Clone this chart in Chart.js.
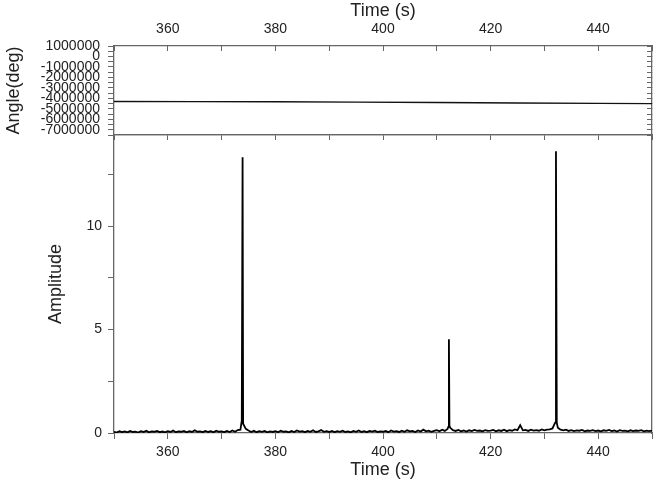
<!DOCTYPE html>
<html>
<head>
<meta charset="utf-8">
<script src="https://cdn.jsdelivr.net/npm/chart.js@4.4.0/dist/chart.umd.min.js"></script>
<style>
  html, body { margin: 0; padding: 0; background: #fff; }
  #wrap { position: relative; width: 665px; height: 487px; overflow: hidden; }
  canvas { position: absolute; left: 0; }
  #angleChart { top: 0; z-index: 2; }
  #ampChart { top: 130px; z-index: 1; }
</style>
</head>
<body>
<div id="wrap">
  <canvas id="ampChart" width="665" height="357"></canvas>
  <canvas id="angleChart" width="665" height="142"></canvas>
</div>
<script>
// tick labels
var timeTicks = [360, 380, 400, 420, 440];
var ampTicks = [0, 5, 10];
var angleTicks = [1000000, 0, -1000000, -2000000, -3000000, -4000000, -5000000, -6000000, -7000000];

// top panel: angle vs time
var angleTimes = [350, 365, 380, 395, 410, 425, 440, 450];
var angleValues = [-4300000, -4310000, -4330000, -4360000, -4400000, -4440000, -4480000, -4500000];

// bottom panel: amplitude sampled every 0.5 s from 350 s
var ampValues = [
  0.06,0.02,0.09,0.04,0.08,0.03,0.10,0.05,0.07,0.02,0.09,0.05,0.11,0.03,0.08,0.06,0.10,0.04,0.07,0.03,
  0.09,0.05,0.12,0.04,0.08,0.06,0.10,0.03,0.09,0.05,0.13,0.06,0.08,0.04,0.10,0.05,0.09,0.03,0.11,0.06,
  0.08,0.04,0.10,0.05,0.12,0.06,0.14,0.16,0.45,0.20,0.12,0.05,0.11,0.04,0.09,0.06,0.10,0.03,0.08,0.05,
  0.09,0.04,0.11,0.06,0.08,0.03,0.10,0.05,0.12,0.07,0.09,0.04,0.10,0.06,0.13,0.05,0.08,0.14,0.06,0.09,
  0.05,0.10,0.04,0.09,0.06,0.11,0.05,0.08,0.03,0.10,0.06,0.12,0.05,0.09,0.04,0.10,0.07,0.11,0.05,0.08,
  0.06,0.10,0.04,0.12,0.07,0.09,0.05,0.11,0.06,0.13,0.08,0.10,0.05,0.12,0.07,0.16,0.08,0.11,0.06,0.10,
  0.14,0.08,0.16,0.10,0.20,0.25,0.14,0.10,0.15,0.08,0.12,0.07,0.13,0.09,0.15,0.10,0.12,0.08,0.14,0.10,
  0.11,0.15,0.08,0.13,0.10,0.16,0.09,0.14,0.11,0.17,0.14,0.38,0.13,0.15,0.10,0.16,0.12,0.14,0.11,0.17,
  0.13,0.16,0.18,0.22,0.50,0.25,0.16,0.13,0.16,0.10,0.14,0.09,0.13,0.11,0.15,0.08,0.12,0.10,0.14,0.09,
  0.12,0.08,0.13,0.10,0.15,0.09,0.12,0.07,0.14,0.10,0.11,0.08,0.13,0.09,0.12,0.10,0.14,0.08,0.11,0.09,0.12
];
var ampTimes = ampValues.map(function (v, i) { return 350 + i * 0.5; });

// the three spikes
var peakTimes = [373.75, 373.9, 412.15, 412.25, 412.35, 432.15, 432.3];
var peakValues = [0.6, 13.33, 0.3, 4.53, 0.35, 13.62, 0.5];

Chart.defaults.font.family = "'Liberation Sans', Arial, sans-serif";
Chart.defaults.color = '#222';

var axisColor = '#666';

function isTick(list, v) {
    return list.some(function (t) { return Math.abs(t - v) < 1e-6 * Math.max(1, Math.abs(t)); });
}

// force axis box sizes so both panels share the same plot edges
function fixWidth(w) {
    return function (scale) { scale.width = w; scale.paddingTop = 0; scale.paddingBottom = 0; };
}
function fixHeight(h) {
    return function (scale) { scale.height = h; scale.paddingLeft = 0; scale.paddingRight = 0; };
}

// top chart
var anglePoints = angleTimes.map(function (t, i) { return { x: t, y: angleValues[i] }; });

new Chart(document.getElementById('angleChart'), {
    type: 'line',
    data: {
        datasets: [{
            data: anglePoints,
            borderColor: '#111',
            borderWidth: 1.4,
            pointRadius: 0,
            xAxisID: 'x',
            yAxisID: 'y'
        }]
    },
    options: {
        responsive: false,
        animation: false,
        layout: { padding: 0 },
        plugins: { legend: { display: false }, tooltip: { enabled: false } },
        scales: {
            x: {
                type: 'linear', position: 'top', min: 350, max: 450,
                ticks: {
                    stepSize: 10, padding: 13, autoSkip: false, maxRotation: 0, maxTicksLimit: 100,
                    font: { size: 14 },
                    callback: function (v) { return isTick(timeTicks, v) ? String(v) : ''; }
                },
                grid: { drawOnChartArea: false, tickLength: -5, color: axisColor },
                border: { color: axisColor, width: 1.3 },
                title: { display: true, text: 'Time (s)', font: { size: 18 }, padding: { top: 0, bottom: 0 } },
                afterFit: fixHeight(46)
            },
            xb: {
                type: 'linear', position: 'bottom', min: 350, max: 450,
                ticks: { display: false, stepSize: 10, maxTicksLimit: 100 },
                grid: { drawOnChartArea: false, tickLength: 5, color: axisColor },
                border: { color: axisColor, width: 1.3 },
                afterFit: fixHeight(7)
            },
            y: {
                type: 'linear', position: 'left', min: -7500000, max: 1000000,
                ticks: {
                    stepSize: 500000, autoSkip: false, padding: 8, maxTicksLimit: 100,
                    font: { size: 14 },
                    callback: function (v) { return isTick(angleTicks, v) ? String(Math.round(v)) : ''; }
                },
                grid: { drawOnChartArea: false, tickLength: 6, color: axisColor },
                border: { color: axisColor, width: 1.3 },
                title: { display: true, text: 'Angle(deg)', font: { size: 18 }, padding: { top: 3, bottom: 0 } },
                afterFit: fixWidth(114)
            },
            yr: {
                type: 'linear', position: 'right', min: -7500000, max: 1000000,
                ticks: { display: false, stepSize: 500000, maxTicksLimit: 100 },
                grid: { drawOnChartArea: false, tickLength: -5, color: axisColor },
                border: { color: axisColor, width: 1.3 },
                afterFit: fixWidth(13)
            }
        }
    }
});

// bottom chart
var ampPoints = ampTimes.map(function (t, i) { return { x: t, y: ampValues[i] }; })
    .concat(peakTimes.map(function (t, i) { return { x: t, y: peakValues[i] }; }))
    .sort(function (a, b) { return a.x - b.x; });

new Chart(document.getElementById('ampChart'), {
    type: 'line',
    data: {
        datasets: [{
            data: ampPoints,
            borderColor: '#000',
            borderWidth: 1.8,
            pointRadius: 0,
            xAxisID: 'x',
            yAxisID: 'y'
        }]
    },
    options: {
        responsive: false,
        animation: false,
        layout: { padding: { left: 42, top: 0, right: 0, bottom: 0 } },
        plugins: { legend: { display: false }, tooltip: { enabled: false } },
        scales: {
            xt: {
                type: 'linear', position: 'top', min: 350, max: 450,
                ticks: { display: false },
                grid: { drawOnChartArea: false, drawTicks: false },
                border: { color: axisColor, width: 1.3 },
                afterFit: fixHeight(5)
            },
            x: {
                type: 'linear', position: 'bottom', min: 350, max: 450,
                ticks: {
                    stepSize: 10, padding: 5, autoSkip: false, maxRotation: 0, maxTicksLimit: 100,
                    font: { size: 14 },
                    callback: function (v) { return isTick(timeTicks, v) ? String(v) : ''; }
                },
                grid: { drawOnChartArea: false, tickLength: 6, color: axisColor },
                border: { color: axisColor, width: 1.3 },
                title: { display: true, text: 'Time (s)', font: { size: 18 }, padding: { top: 0, bottom: 6 } },
                afterFit: fixHeight(54)
            },
            y: {
                type: 'linear', position: 'left', min: 0, max: 14.4,
                ticks: {
                    stepSize: 2.5, autoSkip: false, padding: 6, maxTicksLimit: 100,
                    font: { size: 14 },
                    callback: function (v) { return isTick(ampTicks, v) ? String(v) : ''; }
                },
                grid: { drawOnChartArea: false, tickLength: 6, color: axisColor },
                border: { color: axisColor, width: 1.3 },
                title: { display: true, text: 'Amplitude', font: { size: 18 }, padding: { top: 3, bottom: 0 } },
                afterFit: fixWidth(72)
            },
            yr: {
                type: 'linear', position: 'right', min: 0, max: 14.4,
                ticks: { display: false },
                grid: { drawOnChartArea: false, drawTicks: false },
                border: { color: axisColor, width: 1.3 },
                afterFit: fixWidth(13)
            }
        }
    }
});
</script>
</body>
</html>
